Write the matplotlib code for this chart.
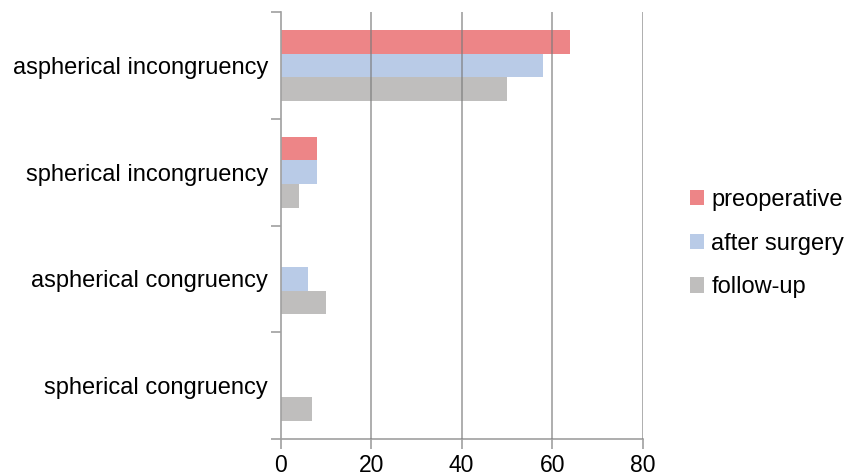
#!/usr/bin/env python3
# Horizontal grouped bar chart: joint congruency at three time points

import matplotlib.pyplot as plt
import numpy as np

plt.rcParams['font.family'] = ['Liberation Sans', 'DejaVu Sans']

# Data (categories listed top to bottom)
categories = ['aspherical incongruency', 'spherical incongruency',
              'aspherical congruency', 'spherical congruency']
preoperative = [64, 8, 0, 0]
after_surgery = [58, 8, 6, 0]
follow_up = [50, 4, 10, 7]
series_names = ['preoperative', 'after surgery', 'follow-up']
colors = ['#ED8587', '#B9CBE7', '#BFBEBD']

fig = plt.figure(figsize=(8.57, 4.76), dpi=100)
ax = fig.add_axes([0.3275, 0.0777, 0.4224, 0.8971])

ypos = np.arange(len(categories))[::-1].astype(float)
h = 0.222
for k, (vals, name, c) in enumerate(zip([preoperative, after_surgery, follow_up],
                                        series_names, colors)):
    ax.barh(ypos + (1 - k) * h, vals, height=h, color=c, label=name,
            zorder=2, linewidth=0)

ax.set_xlim(0, 80)
ax.set_ylim(-0.5, len(categories) - 0.5)

# vertical gridlines drawn over the bars
for xv in [20, 40, 60, 80]:
    ax.axvline(xv, color='#7a7a7a', lw=1.2, alpha=0.7, zorder=3)

ax.set_xticks([0, 20, 40, 60, 80])
ax.tick_params(axis='x', length=7, width=1.2, color='#a0a0a0',
               labelsize=16.5, pad=4)

# category boundaries as major ticks, labels at category centres
ax.set_yticks(np.arange(-0.5, len(categories), 1.0))
ax.set_yticklabels([])
ax.tick_params(axis='y', which='major', length=7, width=1.2, color='#a0a0a0')
ax.set_yticks(ypos, minor=True)
ax.set_yticklabels(categories, minor=True)
ax.tick_params(axis='y', which='minor', length=0, labelsize=17, pad=9)

for side in ['top', 'right']:
    ax.spines[side].set_visible(False)
for side in ['left', 'bottom']:
    ax.spines[side].set_color('#a0a0a0')
    ax.spines[side].set_linewidth(1.2)
ax.spines['left'].set_zorder(4)

fig.legend(loc='center left', bbox_to_anchor=(0.780, 0.488), frameon=False,
           fontsize=17, handlelength=0.62, handleheight=0.62,
           handletextpad=0.3, labelspacing=0.92)

plt.savefig('out.png', dpi=100)
plt.close()
